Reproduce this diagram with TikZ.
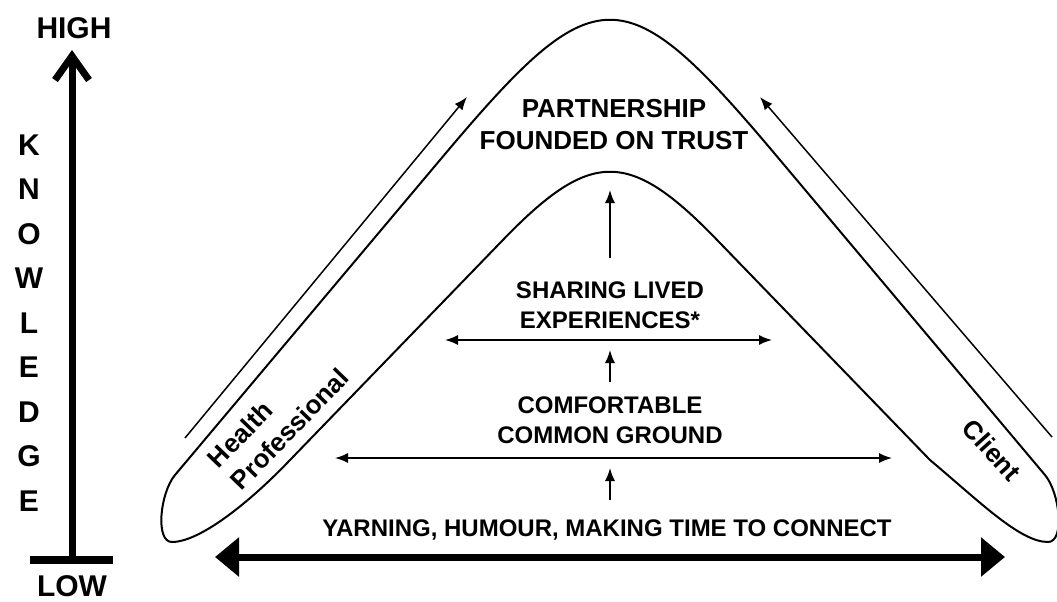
\documentclass[tikz,border=0pt]{standalone}
\usepackage{fontspec}
\setmainfont{Liberation Sans}
\usetikzlibrary{arrows.meta}

\tikzset{
  toplbl/.style={font=\bfseries\fontsize{13}{16}\selectfont, align=center, inner sep=0pt},
  midlbl/.style={font=\bfseries\fontsize{12}{15}\selectfont, align=center, inner sep=0pt},
  axlbl/.style={font=\bfseries\fontsize{15}{18}\selectfont, inner sep=0pt},
  thinarrow/.style={line width=0.75pt, -{Latex[length=6.5pt,width=5pt]}},
  twoarrow/.style={line width=0.75pt, {Latex[length=6.5pt,width=5pt]}-{Latex[length=6.5pt,width=5pt]}}
}

\begin{document}
\begin{tikzpicture}[x=0.5pt,y=-0.5pt]
  \useasboundingbox (0,0) rectangle (1057,601);

  % Knowledge axis
  \coordinate (axbot) at (72,557);
  \coordinate (axtop) at (72,50);
  \coordinate (barl) at (30,560);
  \coordinate (barr) at (113,560);
  \draw[line width=3.5pt, -{Straight Barb[length=12pt,width=17pt]}] (axbot) -- (axtop);
  \draw[line width=4pt] (barl) -- (barr);
  \node[axlbl] (high) at (74,28) {HIGH};
  \node[axlbl] (low) at (72,586) {LOW};
  \foreach \l [count=\i from 0] in {K,N,O,W,L,E,D,G,E}
    \node[axlbl] (k\i) at (29,145+44.5*\i) {\l};

  % Boomerang
  \draw[line width=1pt]
    (172,542) .. controls (155,542) and (160,493) .. (175,475)
    -- (440,160)
    .. controls (597,-27) and (623,-27) .. (780,160)
    -- (1045,475)
    .. controls (1060,493) and (1065,542) .. (1048,542)
    .. controls (1020,542) and (980,502) .. (930,460)
    -- (720,243)
    .. controls (629,148) and (591,148) .. (500,243)
    -- (290,460)
    .. controls (250,502) and (200,542) .. cycle;

  % Arrows along the arms
  \coordinate (hpfrom) at (185,438);
  \coordinate (hpto) at (467,97);
  \coordinate (clfrom) at (1052,437);
  \coordinate (clto) at (760,97);
  \draw[thinarrow] (hpfrom) -- (hpto);
  \draw[thinarrow] (clfrom) -- (clto);
  \node[font=\bfseries\fontsize{13}{16}\selectfont, align=left, rotate=46] (hp) at (278,418) {Health\\Professional};
  \node[font=\bfseries\fontsize{13}{16}\selectfont, rotate=-48] (client) at (992,450) {Client};

  % Levels
  \node[toplbl] (trust) at (614,125) {PARTNERSHIP\\FOUNDED ON TRUST};
  \node[midlbl] (lived) at (610,305) {SHARING LIVED\\EXPERIENCES*};
  \node[midlbl] (ground) at (610,420) {COMFORTABLE\\COMMON GROUND};
  \node[midlbl] (yarn) at (607,530) {YARNING, HUMOUR, MAKING TIME TO CONNECT};

  \coordinate (up1a) at (610,258);
  \coordinate (up1b) at (610,190);
  \coordinate (up2a) at (610,382);
  \coordinate (up2b) at (610,350);
  \coordinate (up3a) at (610,500);
  \coordinate (up3b) at (610,468);
  \draw[thinarrow] (up1a) -- (up1b);
  \draw[thinarrow] (up2a) -- (up2b);
  \draw[thinarrow] (up3a) -- (up3b);

  \coordinate (w1l) at (445,340);
  \coordinate (w1r) at (772,340);
  \coordinate (w2l) at (335,458);
  \coordinate (w2r) at (892,458);
  \draw[twoarrow] (w1l) -- (w1r);
  \draw[twoarrow] (w2l) -- (w2r);

  % Base arrow
  \coordinate (basel) at (215,557);
  \coordinate (baser) at (1005,557);
  \draw[line width=3.5pt, {Triangle[length=12pt,width=19pt]}-{Triangle[length=12pt,width=19pt]}] (basel) -- (baser);
\end{tikzpicture}
\end{document}
